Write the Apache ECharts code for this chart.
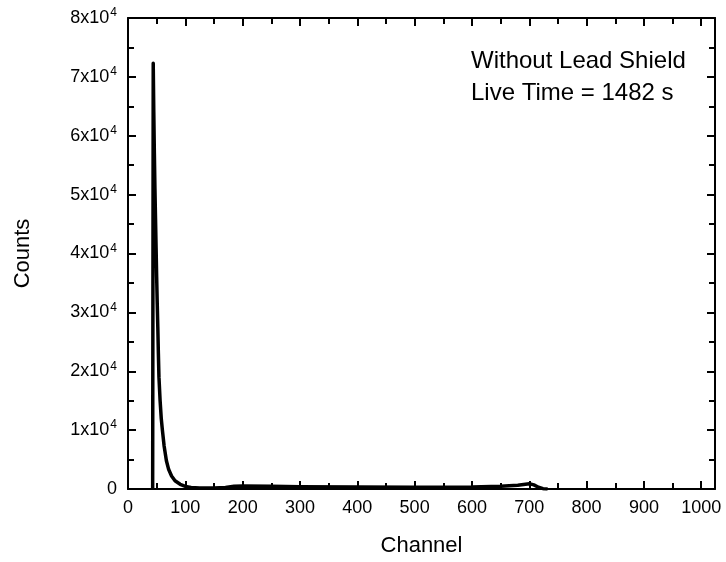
<!DOCTYPE html>
<html>
<head>
<meta charset="utf-8">
<script src="https://cdn.jsdelivr.net/npm/echarts@6/dist/echarts.min.js"></script>
<style>html,body{margin:0;padding:0;background:#fff;}#c{width:726px;height:562px;}</style>
</head>
<body>
<div id="c"></div>
<script>
var channels = [43, 44, 45, 46, 47, 48, 49, 50, 51, 52, 53, 54, 56, 58, 60, 63, 67, 71, 76, 82, 91, 100, 110, 125, 150, 170, 185, 200, 250, 300, 400, 500, 600, 650, 680, 700, 708, 716, 724, 732];
var counts   = [0, 72300, 64000, 57000, 51000, 46000, 41000, 36000, 31500, 27500, 23000, 19000, 15000, 12000, 10000, 7300, 4800, 3300, 2200, 1400, 800, 450, 250, 180, 180, 250, 450, 500, 450, 400, 320, 280, 320, 450, 650, 900, 700, 300, 60, 0];
var xTicks = [0, 100, 200, 300, 400, 500, 600, 700, 800, 900, 1000];
var yTicks = [0, 10000, 20000, 30000, 40000, 50000, 60000, 70000, 80000];
var annotation = ['Without Lead Shield', 'Live Time = 1482 s'];

var data = channels.map(function (c, i) { return [c, counts[i]]; });
var FONT = '"Liberation Sans", Arial, sans-serif';
var chart = echarts.init(document.getElementById('c'));

function yFmt(v) {
  if (v === 0) return '{n|0}';
  return '{n|' + (v / 10000) + 'x10}{s|4}';
}
function mk(extra) {
  var o = {
    axisLine: { show: true, onZero: false, lineStyle: { color: '#000', width: 2 } },
    axisTick: { show: true, inside: true, length: 8, lineStyle: { color: '#000', width: 2 } },
    minorTick: { show: true, splitNumber: 2, length: 6, lineStyle: { color: '#000', width: 2 } },
    splitLine: { show: false }
  };
  for (var k in extra) o[k] = extra[k];
  return o;
}

chart.setOption({
  animation: false,
  backgroundColor: '#fff',
  grid: { left: 128, right: 11, top: 18, bottom: 72, containLabel: false },
  xAxis: [
    mk({
      type: 'value', min: 0, max: 1024, interval: 100, position: 'bottom',
      name: 'Channel', nameLocation: 'middle', nameGap: 46,
      nameTextStyle: { fontFamily: FONT, fontSize: 22, color: '#000' },
      axisLabel: { fontFamily: FONT, fontSize: 18, color: '#000', margin: 10,
        formatter: function (v) { return v > 1000 ? '' : String(v); } }
    }),
    mk({
      type: 'value', min: 0, max: 1024, interval: 100, position: 'top',
      axisLabel: { show: false }
    })
  ],
  yAxis: [
    mk({
      type: 'value', min: 0, max: 80000, interval: 10000, position: 'left',
      name: 'Counts', nameLocation: 'middle', nameGap: 94, nameRotate: 90,
      nameTextStyle: { fontFamily: FONT, fontSize: 22, color: '#000' },
      axisLabel: { color: '#000', margin: 11, formatter: yFmt,
        rich: {
          n: { fontFamily: FONT, fontSize: 18, color: '#000' },
          s: { fontFamily: FONT, fontSize: 12, color: '#000', padding: [0, 0, 10, 1] }
        } }
    }),
    mk({
      type: 'value', min: 0, max: 80000, interval: 10000, position: 'right',
      axisLabel: { show: false }
    })
  ],
  series: [{
    type: 'line', data: data, xAxisIndex: 0, yAxisIndex: 0,
    showSymbol: false, symbol: 'none', smooth: false,
    lineStyle: { color: '#000', width: 3.5, join: 'round' }
  }],
  graphic: [
    { type: 'text', left: 471, top: 49, style: { text: annotation[0], font: '24px ' + FONT, fill: '#000' } },
    { type: 'text', left: 471, top: 81, style: { text: annotation[1], font: '24px ' + FONT, fill: '#000' } }
  ]
});
</script>
</body>
</html>
